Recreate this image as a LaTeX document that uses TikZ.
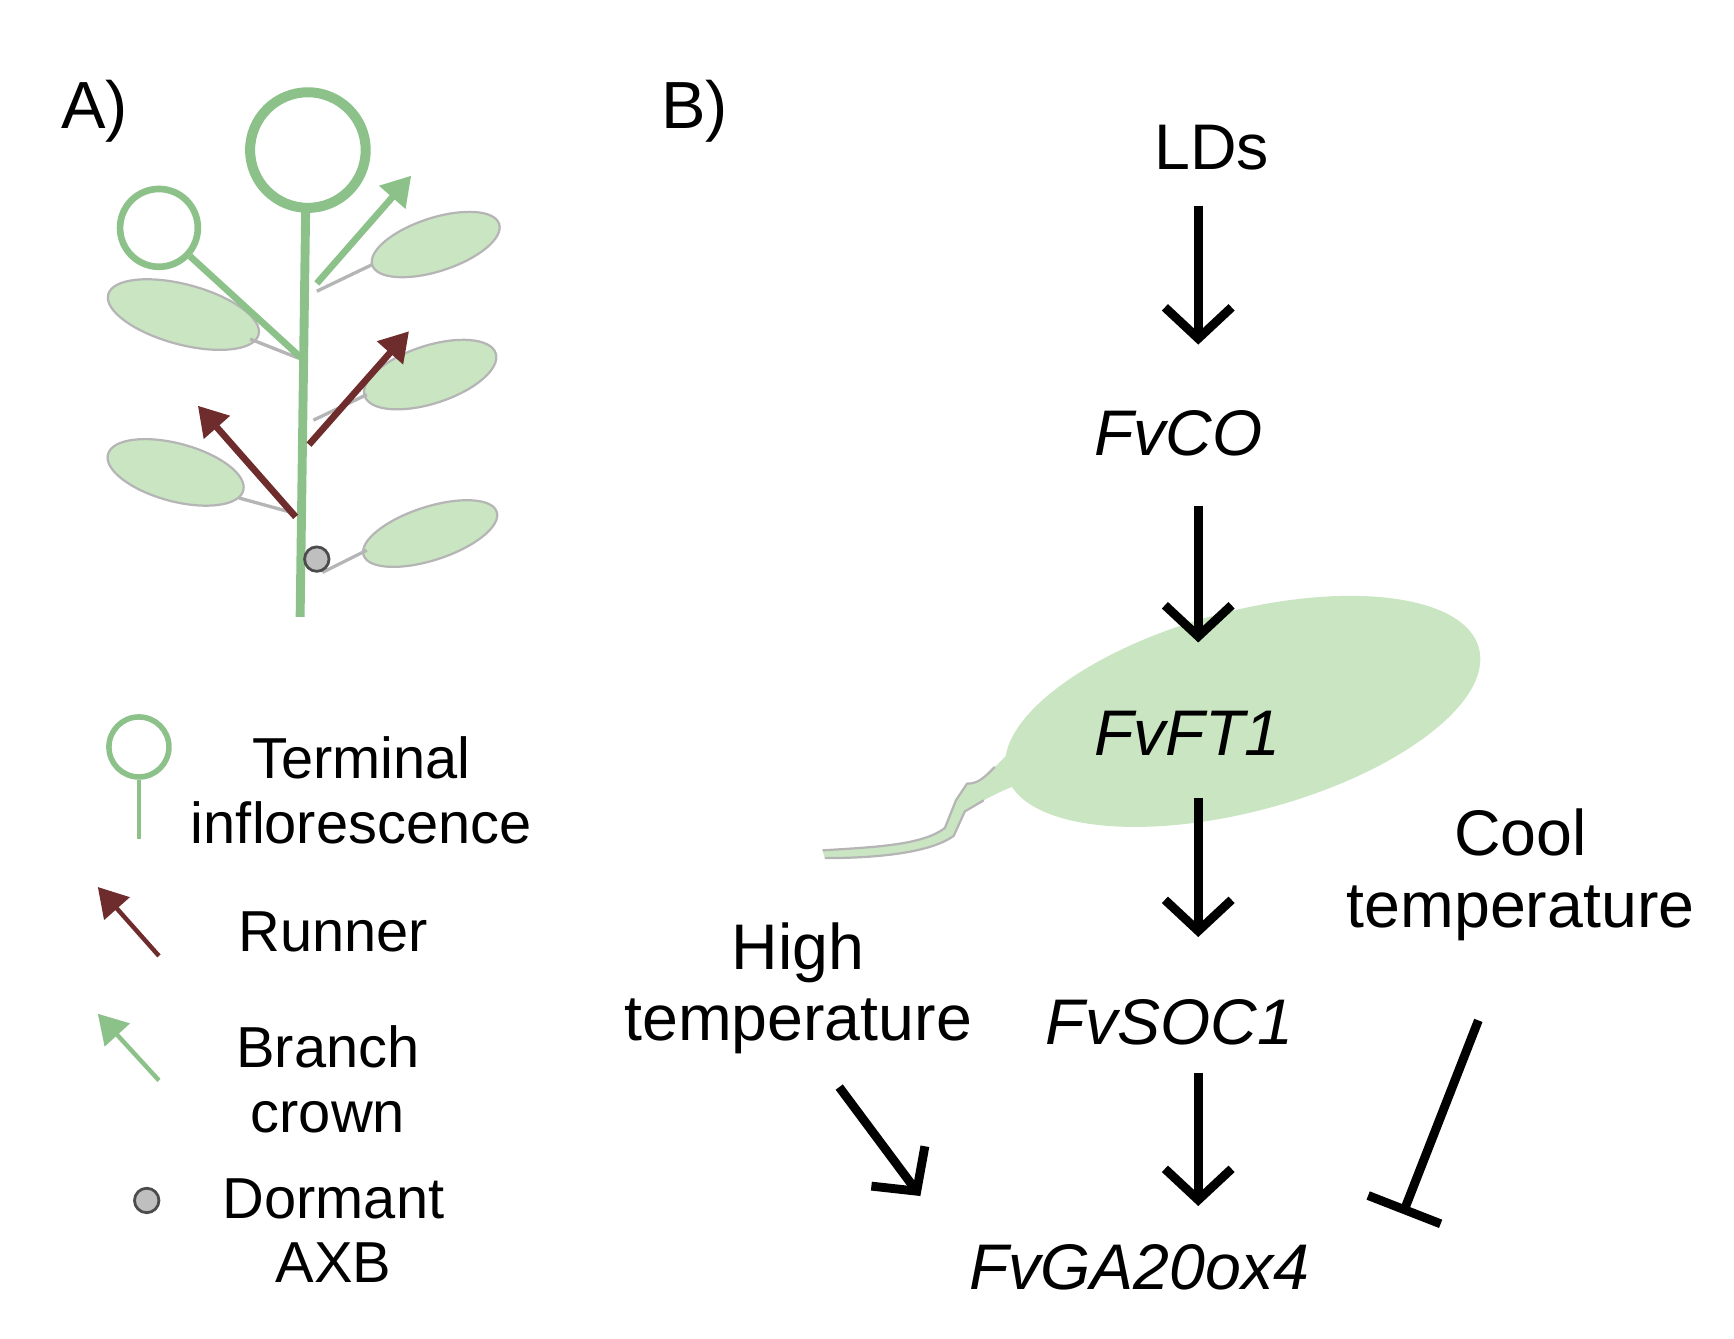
\documentclass[tikz,border=0pt]{standalone}
\usepackage{fontspec}
\setmainfont{Liberation Sans}
\usetikzlibrary{arrows.meta}
\definecolor{pg}{HTML}{8CC28A}
\definecolor{lf}{HTML}{C9E5C2}
\definecolor{lfe}{HTML}{B5B5B5}
\definecolor{rn}{HTML}{6E2C2C}
\begin{document}
\begin{tikzpicture}[x=1pt,y=-1pt,
  txt/.style={font=\fontsize{52}{58}\selectfont,align=center,inner sep=0},
  btx/.style={font=\fontsize{58}{64}\selectfont,align=center,inner sep=0},
  bit/.style={font=\fontsize{58}{64}\selectfont\itshape,align=center,inner sep=0},
  lbl/.style={font=\fontsize{60}{66}\selectfont,inner sep=0},
  blk/.style={line width=8,-{Straight Barb[length=28,width=60,line width=8]}},
  inh/.style={line width=8,-{Bar[width=70,line width=8]}},
  leaf/.style={fill=lf,draw=lfe,line width=2},
  grn/.style={draw=pg,line width=6},
  rarr/.style={line width=6,draw=rn,-{Triangle[length=26,width=30]},rn},
  garr/.style={line width=6,draw=pg,-{Triangle[length=26,width=30]},pg}]
\useasboundingbox (0,0) rectangle (1560,1204);
% A
\node[lbl] (la) at (85,100) {A)};
% leaves
\draw[leaf] (165,283) ellipse[x radius=70,y radius=27,rotate=-15];
\draw[leaf] (392,220) ellipse[x radius=60,y radius=24,rotate=18];
\draw[leaf] (387,337) ellipse[x radius=62,y radius=26,rotate=18];
\draw[leaf] (158,425) ellipse[x radius=63,y radius=26,rotate=-15];
\draw[leaf] (387,480) ellipse[x radius=63,y radius=24,rotate=18];
\draw[lfe,line width=3] (225,305)--(268,322) (335,238)--(285,262) (330,355)--(282,378) (215,448)--(266,462) (330,495)--(290,515);
% stem
\draw[grn,line width=8] (270,555)--(275,188);
\node[circle,grn,line width=9,minimum size=104,inner sep=0] (big) at (277,135) {};
\node[circle,grn,line width=6,minimum size=70,inner sep=0] (sm) at (143,205) {};
\coordinate (j1) at (271,322);
\draw[grn] (sm)--(j1);
\coordinate (g0) at (285,255); \coordinate (g1) at (370,158);
\draw[garr] (g0)--(g1);
\coordinate (r0) at (266,465); \coordinate (r1) at (178,365);
\draw[rarr] (r0)--(r1);
\coordinate (r2) at (278,400); \coordinate (r3) at (368,298);
\draw[rarr] (r2)--(r3);
\node[circle,fill=lightgray,draw=black!70,line width=2.5,minimum size=22,inner sep=0] (bud) at (285,503) {};
% legend
\node[circle,grn,line width=5,minimum size=54,inner sep=0] (lc) at (125,672) {};
\coordinate (lce) at (125,755);
\draw[grn,line width=4] (lc)--(lce);
\node[txt] (t1) at (325,711) {Terminal\\inflorescence};
\coordinate (a0) at (143,860); \coordinate (a1) at (88,798);
\draw[rarr,line width=4] (a0)--(a1);
\node[txt] (t2) at (300,838) {Runner};
\coordinate (b0) at (143,972); \coordinate (b1) at (88,912);
\draw[garr,line width=4] (b0)--(b1);
\node[txt] (t3) at (295,971) {Branch\\crown};
\node[circle,fill=lightgray,draw=black!70,line width=2.5,minimum size=22,inner sep=0] (dot) at (132,1080) {};
\node[txt] (t4) at (300,1107) {Dormant\\AXB};
% B
\node[lbl] (lb) at (625,100) {B)};
\fill[lf] (1118,640) ellipse[x radius=220,y radius=90,rotate=15];
\fill[lf] (920,665) -- (895,690) .. controls (885,700) and (880,705) .. (870,705) -- (860,720) -- (850,745) .. controls (830,760) and (790,762) .. (740,765) -- (742,772) .. controls (800,772) and (840,765) .. (858,752) -- (868,730) -- (885,720) .. controls (900,712) and (915,705) .. (935,700) -- cycle;
\draw[lfe,line width=2] (895,690) .. controls (885,700) and (880,705) .. (870,705) -- (860,720) -- (850,745) .. controls (830,760) and (790,762) .. (740,765);
\draw[lfe,line width=2] (742,772) .. controls (800,772) and (840,765) .. (858,752) -- (868,730) -- (885,720);
\node[btx] (ld) at (1090,133) {LDs};
\node[bit] (co) at (1060,390) {FvCO};
\node[bit] (ft) at (1068,660) {FvFT1};
\node[bit] (soc) at (1052,920) {FvSOC1};
\node[bit] (ga) at (1025,1140) {FvGA20ox4};
\node[btx] (ht) at (718,889) {High\\temperature};
\node[btx] (ct) at (1368,787) {Cool\\temperature};
\coordinate (p1) at (1078,185); \coordinate (p2) at (1078,310);
\draw[blk] (p1)--(p2);
\coordinate (p3) at (1078,455); \coordinate (p4) at (1078,578);
\draw[blk] (p3)--(p4);
\coordinate (p5) at (1078,718); \coordinate (p6) at (1078,843);
\draw[blk] (p5)--(p6);
\coordinate (p7) at (1078,965); \coordinate (p8) at (1078,1085);
\draw[blk] (p7)--(p8);
\coordinate (h0) at (755,978); \coordinate (h1) at (828,1076);
\draw[blk] (h0)--(h1);
\coordinate (c0) at (1330,918); \coordinate (c1) at (1262,1092);
\draw[inh] (c0)--(c1);
\end{tikzpicture}
\end{document}
